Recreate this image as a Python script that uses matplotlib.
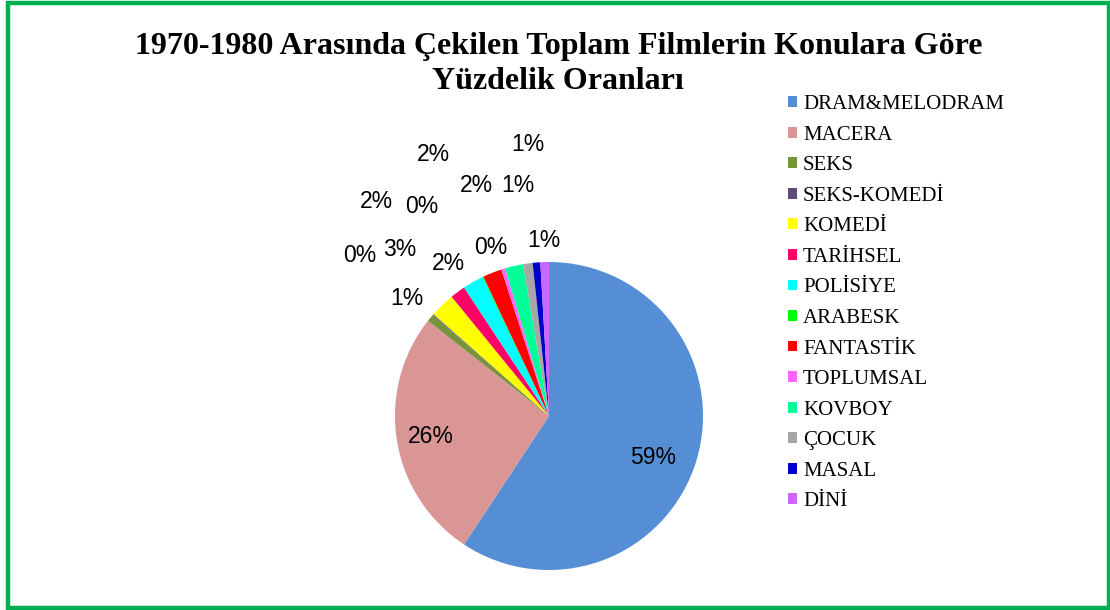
import matplotlib
matplotlib.use("Agg")
import matplotlib.pyplot as plt
from matplotlib.patches import Rectangle, Patch
import numpy as np

# categories and share of films (percent), clockwise from 12 o'clock
categories = ["DRAM&MELODRAM", "MACERA", "SEKS", "SEKS-KOMEDİ", "KOMEDİ", "TARİHSEL",
              "POLİSİYE", "ARABESK", "FANTASTİK", "TOPLUMSAL", "KOVBOY", "ÇOCUK",
              "MASAL", "DİNİ"]
shares = [59.3, 26.3, 0.8, 0.1, 2.6, 1.6, 2.2, 0.1, 2.0, 0.4, 1.9, 1.0, 0.8, 0.9]
pct_labels = ["59%", "26%", "1%", "0%", "3%", "2%", "2%", "0%", "2%", "0%", "2%", "1%", "1%", "1%"]
colors = ["#558ED5", "#D99694", "#77933C", "#604A7B", "#FFFF00", "#FF0066", "#00FFFF",
          "#00FF00", "#FF0000", "#FF66FF", "#00FF99", "#A6A6A6", "#0000CC", "#CC66FF"]

# label placement: distance in pie radii, and angular nudge (deg) from the wedge middle
label_dist = [0.73, 0.78, 1.20, 1.61, 1.455, 1.79, 1.19, 1.595, 1.856, 1.16, 1.57, 1.51, 1.765, 1.14]
label_nudge = [-5.0, 0.8, 0.1, 0.9, -2.1, 2.5, 3.9, 5.9, 2.2, 1.9, 4.4, -0.3, -0.3, 0.0]

W, H = 1110, 610
fig = plt.figure(figsize=(W / 100, H / 100), dpi=100)
fig.patch.set_facecolor("white")

# green frame
fig.patches.append(Rectangle((7.5 / W, 2.5 / H), 1101 / W, 605 / H, transform=fig.transFigure,
                             fill=False, edgecolor="#00B050", linewidth=3.2))

fig.text(0.503, 1 - 64 / H, "1970-1980 Arasında Çekilen Toplam Filmlerin Konulara Göre\nYüzdelik Oranları",
         ha="center", va="center", fontsize=23, fontweight="bold", family="Liberation Serif",
         linespacing=1.28, color="black")

cx, cy, r = 549, 416, 154
ax = fig.add_axes([(cx - r) / W, (H - cy - r) / H, 2 * r / W, 2 * r / H])
wedges, _ = ax.pie(shares, colors=colors, startangle=90, counterclock=False, radius=1,
                   wedgeprops=dict(linewidth=0))
ax.set_xlim(-1, 1)
ax.set_ylim(-1, 1)
ax.axis("off")

for w, lab, d, n in zip(wedges, pct_labels, label_dist, label_nudge):
    mid = np.deg2rad((w.theta1 + w.theta2) / 2 + n)
    ax.text(d * np.cos(mid), d * np.sin(mid), lab, ha="center", va="center",
            fontsize=16.5, family="Liberation Sans", color="black", clip_on=False)

handles = [Patch(facecolor=c, edgecolor="none") for c in colors]
fig.legend(handles, categories, loc="upper left", bbox_to_anchor=(788 / W, 1 - 95 / H),
           frameon=False, prop=dict(family="Liberation Serif", size=15),
           handlelength=0.42, handleheight=0.42, handletextpad=0.3,
           labelspacing=0.555, borderpad=0, borderaxespad=0)

fig.savefig("out.png", dpi=100, facecolor="white")
